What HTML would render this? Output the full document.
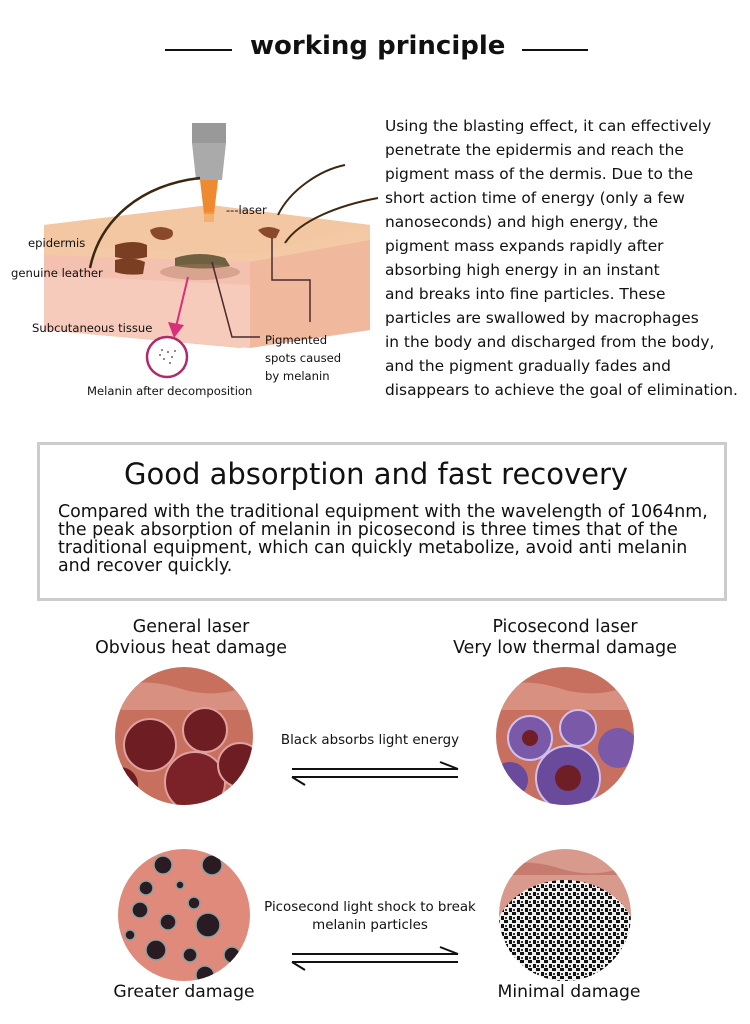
<!DOCTYPE html>
<html><head><meta charset="utf-8"><style>
body{margin:0;width:750px;height:1024px;background:#fff;position:relative;overflow:hidden;font-family:"DejaVu Sans","Liberation Sans",sans-serif;color:#111}
.a{position:absolute;white-space:nowrap}
</style></head><body>
<svg class="a" style="left:0;top:0" width="750" height="1024">
<defs>
<clipPath id="c1"><circle cx="184" cy="736" r="69"/></clipPath>
<clipPath id="c2"><circle cx="565" cy="736" r="69"/></clipPath>
<clipPath id="c3"><circle cx="184" cy="915" r="66"/></clipPath>
<clipPath id="c4"><circle cx="565" cy="915" r="66"/></clipPath>
<pattern id="sp" width="8" height="8" patternUnits="userSpaceOnUse"><rect width="8" height="8" fill="#eee"/><rect x="0" y="0" width="4" height="3" fill="#111"/><rect x="5" y="4" width="3" height="4" fill="#111"/><rect x="1" y="5" width="2" height="2" fill="#333"/></pattern>
</defs>
<line x1="165" y1="50" x2="232" y2="50" stroke="#111" stroke-width="2"/>
<line x1="522" y1="50" x2="588" y2="50" stroke="#111" stroke-width="2"/>
<polygon points="44,225 210,205 370,225 370,330 240,348 44,330" fill="#f4c9a6"/>
<polygon points="44,225 210,205 370,225 250,255 44,245" fill="#f3c7a2"/>
<polygon points="44,255 250,262 250,348 44,330" fill="#f4c0b0"/>
<polygon points="250,262 370,240 370,330 250,348" fill="#f0b89c"/>
<polygon points="44,275 250,285 250,348 44,330" fill="#f6d0c0" opacity=".7"/>
<path d="M150,230 q10,-6 22,0 q4,8 -8,10 q-12,0 -14,-10z" fill="#8a4a2a"/>
<path d="M115,245 q20,-6 32,0 l0,12 q-16,4 -32,0z M115,260 q16,-4 30,2 l-2,12 q-16,2 -28,-2z" fill="#7a3e22"/>
<path d="M175,258 q25,-8 50,0 l5,8 q-25,5 -55,0z" fill="#6e6040"/>
<path d="M258,230 q10,-6 22,0 l-4,8 q-10,2 -18,-8z" fill="#8a4a2a"/>
<ellipse cx="200" cy="272" rx="40" ry="8" fill="#b07a60" opacity=".4"/>
<rect x="192" y="123" width="34" height="20" fill="#999"/>
<polygon points="192,143 226,143 222,180 196,180" fill="#aaa"/>
<polygon points="200,180 218,180 214,214 204,214" fill="#f08a30"/>
<rect x="204" y="212" width="10" height="10" fill="#f5a050" opacity=".6"/>
<path d="M200,178 C140,185 100,220 90,268" fill="none" stroke="#3a2810" stroke-width="2.5"/>
<path d="M278,215 C290,190 320,170 345,165" fill="none" stroke="#3a2810" stroke-width="2"/>
<path d="M285,243 C300,220 340,205 378,198" fill="none" stroke="#3a2810" stroke-width="2"/>
<polyline points="272,238 272,280 310,280 310,322" fill="none" stroke="#4a2a30" stroke-width="1.5"/>
<polyline points="212,262 232,337 260,337" fill="none" stroke="#4a2a30" stroke-width="1.5"/>
<line x1="188" y1="277" x2="176" y2="327" stroke="#d8307a" stroke-width="2"/>
<polygon points="168,322 184,325 174,338" fill="#d8307a"/>
<circle cx="167" cy="357" r="20" fill="#fff" stroke="#b02a6a" stroke-width="2.5"/>
<g fill="#666"><circle cx="162" cy="350" r="1"/><circle cx="168" cy="352" r="1"/><circle cx="172" cy="357" r="1"/><circle cx="164" cy="359" r="1"/><circle cx="170" cy="363" r="1"/><circle cx="160" cy="355" r="1"/><circle cx="175" cy="351" r="1"/></g>
<rect x="38.5" y="443.5" width="687" height="156" fill="none" stroke="#ccc" stroke-width="3"/>
<g clip-path="url(#c1)"><rect x="110" y="660" width="150" height="150" fill="#c8705e"/>
<path d="M110,690 q30,-15 75,0 q40,10 75,-10 v30 h-150z" fill="#d89080"/>
<circle cx="150" cy="745" r="26" fill="#6e1e22" stroke="#e0a0a0" stroke-width="2"/><circle cx="205" cy="730" r="22" fill="#6e1e22" stroke="#e0a0a0" stroke-width="2"/><circle cx="195" cy="782" r="30" fill="#7a2228" stroke="#e0a0a0" stroke-width="2"/><circle cx="240" cy="765" r="22" fill="#6e1e22" stroke="#e0a0a0" stroke-width="2"/><circle cx="120" cy="785" r="18" fill="#6e1e22"/></g>
<g clip-path="url(#c2)"><rect x="490" y="660" width="150" height="150" fill="#c87060"/>
<path d="M490,690 q30,-15 75,0 q40,10 75,-10 v30 h-150z" fill="#d89080"/>
<circle cx="530" cy="738" r="22" fill="#7a5aa8" stroke="#d0c0f0" stroke-width="2"/><circle cx="578" cy="728" r="18" fill="#7a5aa8" stroke="#d0c0f0" stroke-width="2"/><circle cx="618" cy="748" r="20" fill="#7a5aa8"/><circle cx="568" cy="778" r="32" fill="#6a4a9a" stroke="#d0c0f0" stroke-width="2"/><circle cx="568" cy="778" r="13" fill="#701e26"/><circle cx="530" cy="738" r="8" fill="#701e26"/><circle cx="510" cy="780" r="18" fill="#6a4a9a"/></g>
<g clip-path="url(#c3)"><rect x="110" y="845" width="150" height="150" fill="#e08a7c"/>
<g fill="#2a1a22" stroke="#8aa0a0" stroke-width="1.5"><circle cx="163" cy="865" r="9"/><circle cx="212" cy="865" r="10"/><circle cx="146" cy="888" r="7"/><circle cx="180" cy="885" r="4"/><circle cx="140" cy="910" r="8"/><circle cx="194" cy="903" r="6"/><circle cx="168" cy="922" r="8"/><circle cx="208" cy="925" r="12"/><circle cx="130" cy="935" r="5"/><circle cx="156" cy="950" r="10"/><circle cx="190" cy="955" r="7"/><circle cx="232" cy="955" r="8"/><circle cx="205" cy="975" r="9"/><circle cx="150" cy="978" r="5"/><circle cx="118" cy="950" r="8"/></g></g>
<g clip-path="url(#c4)"><rect x="490" y="845" width="150" height="150" fill="#d89a8c"/>
<path d="M490,870 q30,-15 75,0 q40,10 75,-10 v15 h-150z" fill="#c77a6e"/>
<ellipse cx="565" cy="942" rx="72" ry="62" fill="url(#sp)"/></g>
<g stroke="#111" stroke-width="2" fill="none">
<line x1="292" y1="769" x2="458" y2="769"/><polyline points="440,762 458,769"/>
<line x1="292" y1="777" x2="458" y2="777"/><polyline points="292,777 305,785"/>
<line x1="292" y1="954" x2="458" y2="954"/><polyline points="440,947 458,954"/>
<line x1="292" y1="962" x2="458" y2="962"/><polyline points="292,962 305,970"/>
</g>
</svg>
<div class="a" style="left:250px;top:31px;font-size:26px;font-weight:bold">working principle</div>
<div class="a" style="left:385px;top:114px;font-size:15.4px;line-height:24px">Using the blasting effect, it can effectively<br>penetrate the epidermis and reach the<br>pigment mass of the dermis. Due to the<br>short action time of energy (only a few<br>nanoseconds) and high energy, the<br>pigment mass expands rapidly after<br>absorbing high energy in an instant<br>and breaks into fine particles. These<br>particles are swallowed by macrophages<br>in the body and discharged from the body,<br>and the pigment gradually fades and<br>disappears to achieve the goal of elimination.</div>
<div class="a" style="left:226px;top:203px;font-size:11.6px">---laser</div>
<div class="a" style="left:28px;top:236px;font-size:11.6px">epidermis</div>
<div class="a" style="left:11px;top:266px;font-size:11.6px">genuine leather</div>
<div class="a" style="left:32px;top:321px;font-size:11.6px">Subcutaneous tissue</div>
<div class="a" style="left:265px;top:331px;font-size:11.6px;line-height:18px">Pigmented<br>spots caused<br>by melanin</div>
<div class="a" style="left:87px;top:384px;font-size:11.6px">Melanin after decomposition</div>
<div class="a" style="left:124px;top:457px;font-size:29px">Good absorption and fast recovery</div>
<div class="a" style="left:58px;top:503px;font-size:17.4px;line-height:18px">Compared with the traditional equipment with the wavelength of 1064nm,<br>the peak absorption of melanin in picosecond is three times that of the<br>traditional equipment, which can quickly metabolize, avoid anti melanin<br>and recover quickly.</div>
<div class="a" style="left:71px;top:617px;width:240px;text-align:center;font-size:17.4px;line-height:21px">General laser<br>Obvious heat damage</div>
<div class="a" style="left:430px;top:617px;width:270px;text-align:center;font-size:17.4px;line-height:21px">Picosecond laser<br>Very low thermal damage</div>
<div class="a" style="left:260px;top:733px;width:220px;text-align:center;font-size:13.4px">Black absorbs light energy</div>
<div class="a" style="left:245px;top:899px;width:250px;text-align:center;font-size:13.4px;line-height:18px">Picosecond light shock to break<br>melanin particles</div>
<div class="a" style="left:84px;top:982px;width:200px;text-align:center;font-size:17.2px">Greater damage</div>
<div class="a" style="left:469px;top:982px;width:200px;text-align:center;font-size:17.2px">Minimal damage</div>
</body></html>
